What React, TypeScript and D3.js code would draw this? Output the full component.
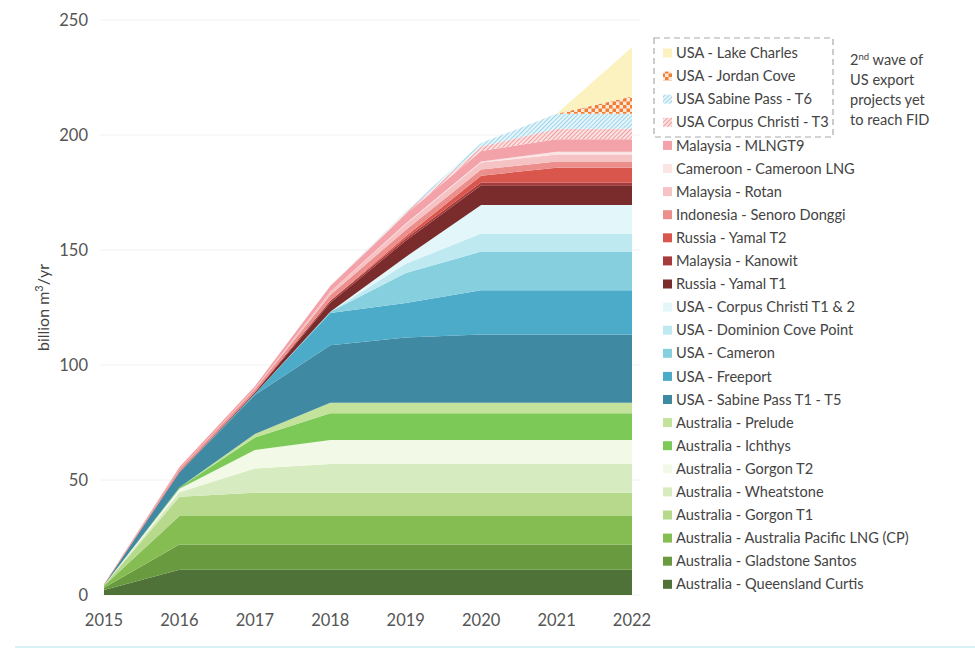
import React from "react";
import * as d3 from "d3";

const years = [2015, 2016, 2017, 2018, 2019, 2020, 2021, 2022];
const yTicks = [0, 50, 100, 150, 200, 250];

// bottom-to-top stacking order
const seriesNames = [
  "Australia - Queensland Curtis",
  "Australia - Gladstone Santos",
  "Australia - Australia Pacific LNG (CP)",
  "Australia - Gorgon T1",
  "Australia - Wheatstone",
  "Australia - Gorgon T2",
  "Australia - Ichthys",
  "Australia - Prelude",
  "USA - Sabine Pass T1 - T5",
  "USA - Freeport",
  "USA - Cameron",
  "USA - Dominion Cove Point",
  "USA - Corpus Christi T1 & 2",
  "Russia - Yamal T1",
  "Malaysia - Kanowit",
  "Russia - Yamal T2",
  "Indonesia - Senoro Donggi",
  "Malaysia - Rotan",
  "Cameroon - Cameroon LNG",
  "Malaysia - MLNGT9",
  "USA Corpus Christi - T3",
  "USA Sabine Pass - T6",
  "USA - Jordan Cove",
  "USA - Lake Charles",
];

const queenslandCurtis = [2.2, 11, 11, 11, 11, 11, 11, 11];
const gladstoneSantos = [1.0, 11, 11, 11, 11, 11, 11, 11];
const australiaPacific = [0.8, 12.3, 12.3, 12.3, 12.3, 12.3, 12.3, 12.3];
const gorgonT1 = [0.2, 8.4, 10.2, 10.2, 10.2, 10.2, 10.2, 10.2];
const wheatstone = [0, 2, 10.5, 12.5, 12.5, 12.5, 12.5, 12.5];
const gorgonT2 = [0, 1.5, 8, 10.4, 10.4, 10.4, 10.4, 10.4];
const ichthys = [0, 0.5, 5.5, 11.6, 11.6, 11.6, 11.6, 11.6];
const prelude = [0, 0, 1.5, 4.6, 4.6, 4.6, 4.6, 4.6];
const sabinePass = [0.2, 6.6, 17, 25, 28.4, 29.7, 29.7, 29.7];
const freeport = [0, 0, 0.5, 14, 15, 19.2, 19.2, 19.2];
const cameron = [0, 0, 0, 0.5, 13, 16.8, 16.8, 16.8];
const dominion = [0, 0, 0, 0, 4, 7.9, 7.9, 7.9];
const corpusT12 = [0, 0, 0, 0, 3, 12.4, 12.4, 12.4];
const yamalT1 = [0, 0, 0.5, 4, 7, 8.5, 8.5, 8.5];
const kanowit = [0, 0.3, 0.3, 0.8, 1, 1.2, 1.2, 1.2];
const yamalT2 = [0, 0, 0, 0, 1, 3, 6.5, 6.5];
const senoro = [0.3, 1, 1.2, 2.5, 2.7, 2.7, 2.7, 2.7];
const rotan = [0, 0, 0.3, 1.5, 2.5, 3, 3, 3];
const cameroonLng = [0, 0, 0, 0, 0.3, 0.5, 1.2, 1.2];
const mlngt9 = [0, 1, 1, 2.5, 4, 4.5, 5.5, 5.5];
const corpusT3 = [0, 0, 0, 0, 0.8, 2, 4.5, 4.5];
const sabineT6 = [0, 0, 0, 0, 0.5, 1.5, 6.5, 6.5];
const jordanCove = [0, 0, 0, 0, 0, 0, 0, 7.5];
const lakeCharles = [0, 0, 0, 0, 0, 0, 0, 21.5];

const seriesValues = [
  queenslandCurtis, gladstoneSantos, australiaPacific, gorgonT1, wheatstone,
  gorgonT2, ichthys, prelude, sabinePass, freeport, cameron, dominion,
  corpusT12, yamalT1, kanowit, yamalT2, senoro, rotan, cameroonLng, mlngt9,
  corpusT3, sabineT6, jordanCove, lakeCharles,
];

const fills = [
  "#4f7238", "#6a9a3f", "#86bd52", "#b6d98c", "#d6ebbf", "#f2f9e6",
  "#7dc957", "#c3e29b", "#3f8aa2", "#4cabc9", "#86cfdf", "#bfe9f1",
  "#e3f7fa", "#7a2b2b", "#a73a3a", "#d9564c", "#ec8e8c", "#f5c3c4",
  "#fbe4e4", "#f2a2a8", "url(#hatchPink)", "url(#hatchBlue)",
  "url(#checkOrange)", "#fbf2bf",
];

const W = 975;
const H = 649;

export default function App() {
  const x = d3.scaleLinear().domain([2015, 2022]).range([104, 632]);
  const y = d3.scaleLinear().domain([0, 250]).range([595, 20]);

  const table = years.map((yr, i) => {
    const row: any = { year: yr };
    seriesNames.forEach((n, k) => (row[n] = seriesValues[k][i]));
    return row;
  });
  const stacked = d3.stack().keys(seriesNames)(table as any);
  const area = d3
    .area<any>()
    .x((d) => x(d.data.year))
    .y0((d) => y(d[0]))
    .y1((d) => y(d[1]))
    .curve(d3.curveLinear);

  const legendOrder = [...seriesNames].reverse();
  const font = "Lato, 'Open Sans', sans-serif";

  return (
    <svg
      width={W}
      height={H}
      style={{ position: "absolute", left: 0, top: 0, background: "#fff" }}
    >
      <defs>
        <pattern id="hatchPink" width="3" height="3" patternUnits="userSpaceOnUse" patternTransform="rotate(45)">
          <rect width="3" height="3" fill="#fbe3e3" />
          <line x1="0" y1="0" x2="0" y2="3" stroke="#ee8a8c" strokeWidth="1.6" />
        </pattern>
        <pattern id="hatchBlue" width="3" height="3" patternUnits="userSpaceOnUse" patternTransform="rotate(45)">
          <rect width="3" height="3" fill="#e6f5fa" />
          <line x1="0" y1="0" x2="0" y2="3" stroke="#8bcde6" strokeWidth="1.6" />
        </pattern>
        <pattern id="checkOrange" width="7" height="7" patternUnits="userSpaceOnUse">
          <rect width="7" height="7" fill="#fbeadb" />
          <rect width="3.5" height="3.5" fill="#f07e35" />
          <rect x="3.5" y="3.5" width="3.5" height="3.5" fill="#f07e35" />
        </pattern>
      </defs>

      <line x1={15} x2={975} y1={647} y2={647} stroke="#d6f2f7" strokeWidth={2} />

      {yTicks.map((t) => (
        <g key={t}>
          <line x1={100} x2={640} y1={y(t)} y2={y(t)} stroke="#f2f2f2" strokeWidth={1} />
          <text
            x={88}
            y={y(t)}
            dy="0.35em"
            textAnchor="end"
            fontFamily={font}
            fontSize={16.5}
            fill="#555"
          >
            {t}
          </text>
        </g>
      ))}

      {stacked.map((s, i) => (
        <path key={seriesNames[i]} d={area(s as any) || ""} fill={fills[i]} stroke="none" />
      ))}

      {years.map((yr) => (
        <text
          key={yr}
          x={x(yr)}
          y={626}
          textAnchor="middle"
          fontFamily={font}
          fontSize={16.5}
          fill="#555"
        >
          {yr}
        </text>
      ))}

      <text
        transform={`translate(49,${y(125)}) rotate(-90)`}
        textAnchor="middle"
        fontFamily={font}
        fontSize={16}
        fill="#444"
      >
        billion m<tspan dy="-6" fontSize={11}>3</tspan>
        <tspan dy="6">/yr</tspan>
      </text>

      {legendOrder.map((name, j) => {
        const idx = seriesNames.indexOf(name);
        const cy = 53 + j * 23.1;
        return (
          <g key={name}>
            <rect x={663} y={cy - 4.5} width={9} height={9} fill={fills[idx]} />
            <text
              x={676}
              y={cy}
              dy="0.35em"
              fontFamily={font}
              fontSize={14.6}
              fill="#444"
            >
              {name}
            </text>
          </g>
        );
      })}

      <rect
        x={654}
        y={38}
        width={179}
        height={99}
        fill="none"
        stroke="#aaa"
        strokeWidth={1.2}
        strokeDasharray="6,4"
      />

      <g fontFamily={font} fontSize={14.6} fill="#444">
        <text x={850} y={65}>
          2<tspan dy="-5" fontSize={9.5}>nd</tspan>
          <tspan dy="5"> wave of</tspan>
        </text>
        <text x={850} y={85}>US export</text>
        <text x={850} y={105}>projects yet</text>
        <text x={850} y={125}>to reach FID</text>
      </g>
    </svg>
  );
}
